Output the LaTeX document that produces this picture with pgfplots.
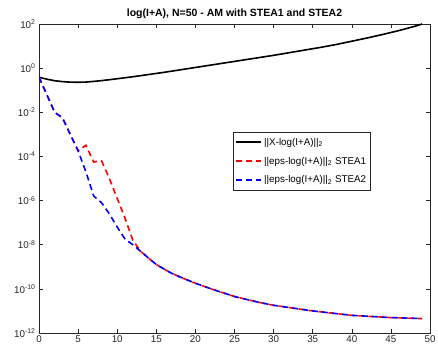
\documentclass[border=0pt]{standalone}
\usepackage{fontspec}
\setmainfont{Liberation Sans}
\usepackage{pgfplots}
\pgfplotsset{compat=1.18}
\definecolor{axgray}{rgb}{0.15,0.15,0.15}
\begin{document}
\begin{tikzpicture}
\path[use as bounding box] (-39pt,-19pt) rectangle (399pt,333pt);
\begin{axis}[
  at={(0,0)}, anchor=south west,
  scale only axis,
  width=391pt, height=309pt,
  xmin=0, xmax=50,
  ymode=log,
  ymin=1e-12, ymax=1e2,
  xtick={0,5,...,50},
  ytick={1e-12,1e-10,1e-8,1e-6,1e-4,1e-2,1e0,1e2},
  yticklabels={10\textsuperscript{-12},10\textsuperscript{-10},10\textsuperscript{-8},10\textsuperscript{-6},10\textsuperscript{-4},10\textsuperscript{-2},10\textsuperscript{0},10\textsuperscript{2}},
  minor tick num=0,
  yminorticks=false,
  tick align=inside,
  major tick length=4pt,
  axis line style={axgray, line width=0.6pt},
  tick style={axgray, line width=0.6pt},
  tick label style={font=\fontsize{9.8}{11}\selectfont, text=axgray},
  /pgf/number format/assume math mode=true,
  xticklabel style={yshift=1pt},
  title={\bfseries log(I+A), N=50 - AM with STEA1 and STEA2},
  title style={font=\fontsize{10.5}{12}\selectfont, yshift=-4pt},
  legend style={at={(rel axis cs:0.496,0.65)}, anchor=north west,
    draw=axgray, fill=white,
    font=\fontsize{9.8}{11}\selectfont, row sep=6pt,
    inner xsep=2pt, inner ysep=4pt},
  legend cell align=left,
  legend image code/.code={\draw[#1, line width=2pt] (0pt,0.2pt) -- (25pt,0.2pt);},
]
\addplot[black, line width=1.6pt] coordinates {
(0,0.389) (1,0.316) (2,0.269) (3,0.245) (4,0.232) (5,0.229) (6,0.234) (7,0.251) (8,0.272) (9,0.299) (10,0.331) (12,0.407) (14,0.513) (16,0.646) (18,0.832) (20,1.072) (22,1.380) (24,1.778) (26,2.291) (28,2.951) (30,3.802) (32,5.012) (34,6.607) (36,8.710) (38,11.75) (40,16.6) (42,23.4) (44,33.9) (46,50.1) (48,77.6) (49,100)
};
\addlegendentry{||X-log(I+A)||\textsubscript{2}}
\addplot[red, line width=1.6pt, dash pattern=on 6pt off 4pt] coordinates {
(0,0.39) (1,6.3e-2) (2,1e-2) (3,5.6e-3) (4,1e-3) (5,1.8e-4) (6,3.2e-4) (7,5.6e-5) (8,6.3e-5) (9,1e-5) (10,1.26e-6) (11,1.6e-7) (12,1.6e-8) (13,5e-9)
(14,2.5e-9) (15,1.26e-9) (16,7.9e-10) (17,5e-10) (18,3.5e-10) (19,2.5e-10) (20,1.8e-10) (22,1e-10) (25,4.5e-11) (28,2.5e-11) (30,1.8e-11) (35,1e-11) (40,6.3e-12) (45,5e-12) (49,4.5e-12)
};
\addlegendentry{||eps-log(I+A)||\textsubscript{2} STEA1}
\addplot[blue, line width=1.6pt, dash pattern=on 6pt off 4pt] coordinates {
(0,0.39) (1,6.3e-2) (2,1e-2) (3,5.6e-3) (4,1e-3) (5,1.8e-4) (6,2e-5) (7,1.6e-6) (8,8e-7) (9,2.5e-7) (10,6.3e-8) (11,1.8e-8) (12,1e-8) (13,5e-9)
(14,2.5e-9) (15,1.26e-9) (16,7.9e-10) (17,5e-10) (18,3.5e-10) (19,2.5e-10) (20,1.8e-10) (22,1e-10) (25,4.5e-11) (28,2.5e-11) (30,1.8e-11) (35,1e-11) (40,6.3e-12) (45,5e-12) (49,4.5e-12)
};
\addlegendentry{||eps-log(I+A)||\textsubscript{2} STEA2}
\end{axis}
\end{tikzpicture}
\end{document}
